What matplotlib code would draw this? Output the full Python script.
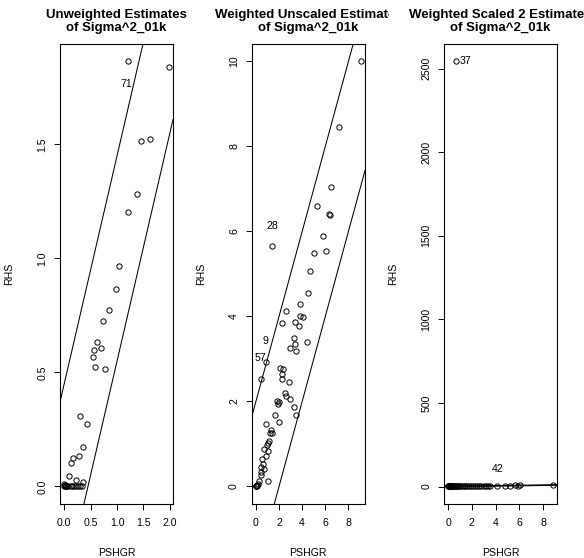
import matplotlib
matplotlib.use("Agg")
import matplotlib.pyplot as plt
from matplotlib.transforms import Bbox, TransformedBbox
import numpy as np

plt.rcParams['font.family'] = ['Liberation Sans', 'DejaVu Sans']

# ---------------- data ----------------
titles = ["Unweighted Estimates\nof Sigma^2_01k",
          "Weighted Unscaled Estimates\nof Sigma^2_01k",
          "Weighted Scaled 2 Estimates\nof Sigma^2_01k"]
xlabel = "PSHGR"
ylabel = "RHS"

# panel 1
p1_x = [1.213, 1.98, 1.453, 1.617, 1.383, 1.2, 1.038, 0.981, 0.855, 0.736,
        0.629, 0.572, 0.704, 0.547, 0.579, 0.768, 0.308, 0.428, 0.358, 0.289,
        0.17, 0.126, 0.1, 0.232, 0.353,
        0.0, 0.0, 0.01, 0.02, 0.03, 0.05, 0.08, 0.12, 0.15, 0.18, 0.22, 0.26,
        0.3, 0.34]
p1_y = [1.866, 1.838, 1.516, 1.525, 1.284, 1.206, 0.969, 0.868, 0.776, 0.727,
        0.632, 0.597, 0.607, 0.566, 0.526, 0.515, 0.309, 0.272, 0.171, 0.135,
        0.127, 0.105, 0.048, 0.029, 0.019,
        0.0, 0.01, 0.0, 0.005, 0.0, 0.0, 0.0, 0.0, 0.0, 0.0, 0.0, 0.0,
        0.0, 0.0]
p1_band = 0.45
p1_labels = {"71": 0}  # label -> index of point

# panel 2
p2_x = [9.07, 7.19, 6.53, 5.27, 6.3, 6.45, 5.84, 1.38, 5.0, 6.04,
        4.66, 4.54, 3.85, 2.56, 3.8, 4.11, 3.34, 3.74, 2.24, 3.31,
        3.37, 4.4, 2.99, 3.45, 0.86, 0.46, 2.38, 2.07, 2.3, 2.24,
        2.85, 2.53, 2.64, 2.99, 1.84, 2.01, 1.93, 3.28, 3.45, 1.61,
        1.99, 0.86, 1.32, 1.43, 1.26, 1.15, 1.04, 0.92, 0.69, 1.06,
        0.86, 0.52, 0.6, 0.46, 0.66, 0.4, 0.43, 1.06, 0.23, 0.08,
        0.0, 0.05, 0.1, 0.15, 0.02]
p2_y = [10.01, 8.46, 7.04, 6.6, 6.42, 6.39, 5.89, 5.65, 5.49, 5.54,
        5.07, 4.56, 4.3, 4.13, 4.02, 3.98, 3.86, 3.78, 3.84, 3.49,
        3.36, 3.39, 3.26, 3.19, 2.94, 2.53, 2.76, 2.79, 2.65, 2.53,
        2.46, 2.19, 2.13, 2.06, 2.02, 1.99, 1.95, 1.88, 1.69, 1.69,
        1.51, 1.47, 1.34, 1.27, 1.25, 1.07, 1.02, 0.97, 0.88, 0.83,
        0.72, 0.65, 0.53, 0.47, 0.42, 0.34, 0.27, 0.13, 0.14, 0.02,
        0.0, 0.0, 0.03, 0.05, 0.01]
p2_band = 2.0
p2_labels = {"28": 7, "9": 24, "57": 25}

# panel 3
p3_x = [0.69, 0.0, 0.02, 0.04, 0.07, 0.1, 0.13, 0.17, 0.22, 0.27,
        0.31, 0.36, 0.42, 0.48, 0.55, 0.63, 0.72, 0.8, 0.92, 1.03,
        1.15, 1.3, 1.42, 1.6, 1.75, 1.9, 2.05, 2.25, 2.45, 2.6,
        2.8, 3.0, 3.15, 3.35, 3.5, 4.1, 4.8, 5.2, 5.6, 5.85, 6.05, 8.84]
p3_y = [2545, 0.2, 0.5, 0.3, 1.0, 0.8, 1.2, 0.6, 1.5, 0.9,
        2.0, 1.1, 1.4, 2.2, 1.8, 2.5, 1.6, 2.1, 3.0, 2.4,
        2.8, 3.5, 2.6, 3.2, 4.0, 3.1, 3.8, 4.5, 2.9, 4.2,
        5.0, 3.6, 4.8, 5.5, 4.4, 5.0, 6.0, 5.2, 6.5, 5.8, 7.0, 9.0]
p3_band = 2.0
p3_labels = {"37": 0, "42": 35}

xticks = [[0, 0.5, 1.0, 1.5, 2.0], [0, 2, 4, 6, 8], [0, 2, 4, 6, 8]]
xticklabels = [["0.0", "0.5", "1.0", "1.5", "2.0"],
               ["0", "2", "4", "6", "8"], ["0", "2", "4", "6", "8"]]
yticks = [[0, 0.5, 1.0, 1.5], [0, 2, 4, 6, 8, 10],
          [0, 500, 1000, 1500, 2000, 2500]]
yticklabels = [["0.0", "0.5", "1.0", "1.5"],
               ["0", "2", "4", "6", "8", "10"],
               ["0", "500", "1000", "1500", "2000", "2500"]]

# label offsets (points) relative to their point
label_offsets = {"71": (-1.2, -16.6), "28": (0.4, 15.0), "9": (0.0, 15.0),
                 "57": (-0.5, 14.8), "37": (6.3, 0.0), "42": (0.5, 12.3)}

# ---------------- figure ----------------
W, H = 584, 558
fig = plt.figure(figsize=(W / 100, H / 100), dpi=100)

boxes = [(60, 173), (251.7, 365), (444, 557.3)]
top, bottom = 44, 503.5

panels = [(p1_x, p1_y, p1_band, p1_labels),
          (p2_x, p2_y, p2_band, p2_labels),
          (p3_x, p3_y, p3_band, p3_labels)]

fs_tick = 7.6
for i, ((l, r), (xs, ys, band, labs)) in enumerate(zip(boxes, panels)):
    ax = fig.add_axes([l / W, 1 - bottom / H, (r - l) / W, (bottom - top) / H])
    xs = np.asarray(xs, float)
    ys = np.asarray(ys, float)
    ax.plot(xs, ys, 'o', mfc='none', mec='black', ms=3.8, mew=0.7,
            linestyle='none')
    ax.axline((0, band), slope=1, color='black', lw=0.75)
    ax.axline((0, -band), slope=1, color='black', lw=0.75)
    for lab, idx in labs.items():
        dx, dy = label_offsets[lab]
        ax.annotate(lab, (xs[idx], ys[idx]), xytext=(dx, dy),
                    textcoords='offset points', ha='center', va='center',
                    fontsize=fs_tick)
    xr = xs.max() - xs.min()
    yr = ys.max() - ys.min()
    ax.set_xlim(xs.min() - 0.04 * xr, xs.max() + 0.04 * xr)
    ax.set_ylim(ys.min() - 0.04 * yr, ys.max() + 0.04 * yr)
    ax.set_xticks(xticks[i])
    ax.set_xticklabels(xticklabels[i])
    ax.set_yticks(yticks[i])
    ax.set_yticklabels(yticklabels[i], rotation=90, va='center')
    ax.tick_params(axis='both', direction='out', length=4.1, width=0.7,
                   labelsize=fs_tick)
    ax.tick_params(axis='x', pad=6.0)
    ax.tick_params(axis='y', pad=5.0)
    for s in ax.spines.values():
        s.set_linewidth(0.8)
    ax.set_xlabel(xlabel, fontsize=fs_tick)
    ax.set_ylabel(ylabel, fontsize=fs_tick)
    wpx = r - l
    hpx = bottom - top
    ax.xaxis.set_label_coords(0.5, -44 / hpx)
    ax.yaxis.set_label_coords(-46 / wpx, 0.5)
    t = ax.set_title(titles[i], fontsize=9.5, fontweight='bold',
                     linespacing=1.05, pad=9.4)
    # the original clips each title to its own third of the figure
    t.set_clip_box(TransformedBbox(Bbox([[i / 3, 0], [(i + 1) / 3, 1]]),
                                   fig.transFigure))
    t.set_clip_on(True)

fig.savefig("out.png", dpi=100)
